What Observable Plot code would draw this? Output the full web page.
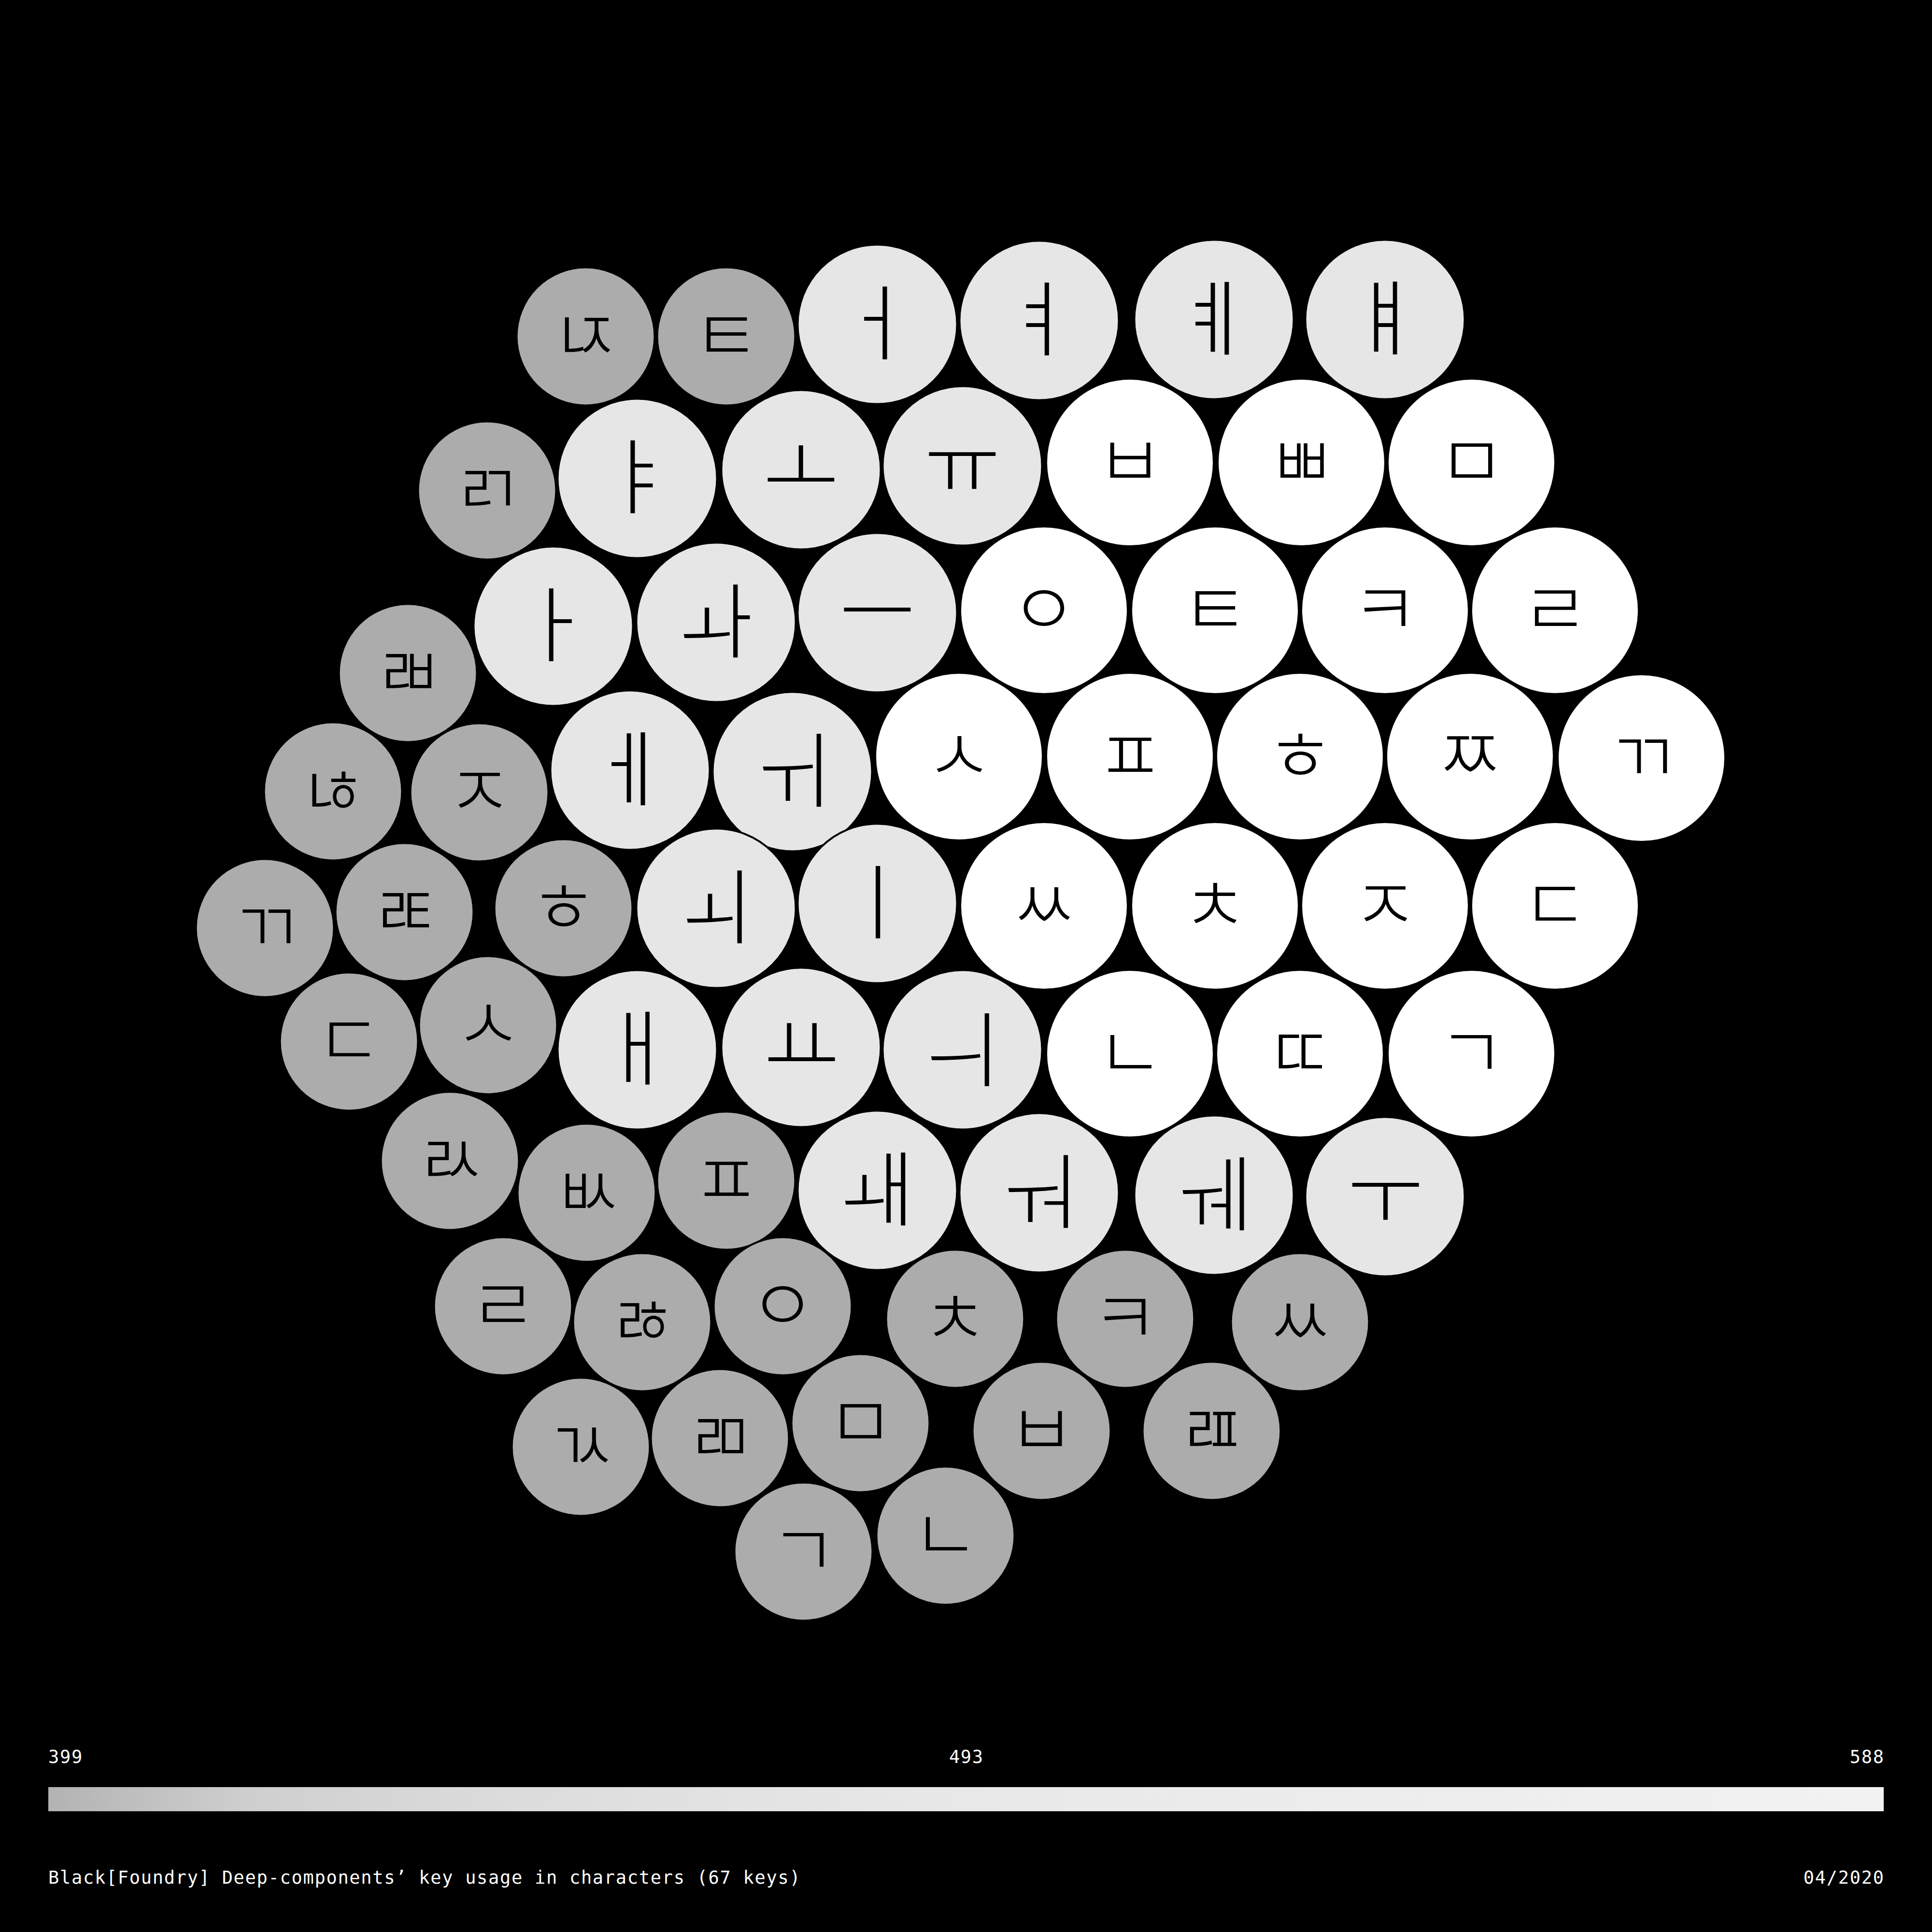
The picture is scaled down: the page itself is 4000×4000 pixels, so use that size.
<!DOCTYPE html>
<html><head><meta charset="utf-8">
<script src="https://cdn.jsdelivr.net/npm/d3@7"></script>
<script src="https://cdn.jsdelivr.net/npm/@observablehq/plot@0.6"></script>
<style>
html,body{margin:0;padding:0;background:#000;}
#wrap{position:relative;width:4000px;height:4000px;background:#000;overflow:hidden;}
#wrap svg{position:absolute;left:0;display:block;}
</style></head><body><div id="wrap"></div>
<script>
// Keys (Hangul jamo deep-components)
const keys  = ["ㄵ","ㅌ","ㅓ","ㅕ","ㅖ","ㅒ",
               "ㄺ","ㅑ","ㅗ","ㅠ","ㅂ","ㅃ","ㅁ",
               "ㄼ","ㅏ","ㅘ","ㅡ","ㅇ","ㅌ","ㅋ","ㄹ",
               "ㄶ","ㅈ","ㅔ","ㅟ","ㅅ","ㅍ","ㅎ","ㅉ","ㄲ",
               "ㄲ","ㄾ","ㅎ","ㅚ","ㅣ","ㅆ","ㅊ","ㅈ","ㄷ",
               "ㄷ","ㅅ","ㅐ","ㅛ","ㅢ","ㄴ","ㄸ","ㄱ",
               "ㄽ","ㅄ","ㅍ","ㅙ","ㅝ","ㅞ","ㅜ",
               "ㄹ","ㅀ","ㅇ","ㅊ","ㅋ","ㅆ",
               "ㄳ","ㄻ","ㅁ","ㅂ","ㄿ",
               "ㄱ","ㄴ"];
// Role of each key: i = initial consonant, v = vowel, f = final consonant
const roles = ["f","f","v","v","v","v",
               "f","v","v","v","i","i","i",
               "f","v","v","v","i","i","i","i",
               "f","f","v","v","i","i","i","i","i",
               "f","f","f","v","v","i","i","i","i",
               "f","f","v","v","v","i","i","i",
               "f","f","f","v","v","v","v",
               "f","f","f","f","f","f",
               "f","f","f","f","f",
               "f","f"];
// Usage count (number of characters using the key) per role
const roleUsage = {i: 588, v: 532, f: 399};
// Packed-layout positions of the bubbles
const posX = [1212,1503,1816,2151,2513,2867,
              1008,1319,1658,1992,2339,2694,3046,
              844,1145,1482,1816,2161,2515,2867,3219,
              689,992,1304,1640,1985,2339,2691,3043,3398,
              548,837,1166,1482,1816,2161,2515,2867,3219,
              722,1010,1319,1658,1992,2339,2691,3046,
              931,1214,1503,1816,2151,2513,2867,
              1041,1329,1620,1977,2329,2691,
              1202,1490,1781,2156,2508,
              1663,1957];
const posY = [696,696,671,663,661,661,
              1015,990,972,964,957,957,957,
              1393,1296,1288,1268,1263,1263,1263,1263,
              1638,1640,1594,1597,1566,1566,1566,1566,1569,
              1921,1888,1880,1880,1870,1875,1875,1875,1875,
              2156,2122,2173,2168,2173,2181,2181,2181,
              2403,2469,2444,2464,2469,2474,2477,
              2704,2737,2704,2730,2730,2737,
              2995,2977,2946,2962,2962,
              3212,3179];
const legendTicks = [399, 493, 588];
const caption = "Black[Foundry] Deep-components’ key usage in characters (67 keys)";
const dateLabel = "04/2020";

const data = keys.map((k, i) => ({key: k, role: roles[i], value: roleUsage[roles[i]], x: posX[i], y: posY[i]}));

const W = 4000, H = 3560, RMAX = 173.5;
const chart = Plot.plot({
  width: W, height: H, margin: 0,
  style: {background: "#000", overflow: "visible"},
  x: {domain: [0, W], range: [0, W], axis: null},
  y: {domain: [0, H], range: [0, H], axis: null},
  r: {type: "sqrt", domain: [0, 588], range: [0, RMAX]},
  color: {type: "ordinal", domain: [399, 532, 588], range: ["#acacac", "#e6e6e6", "#ffffff"]},
  marks: [
    Plot.dot(data, {x: "x", y: "y", r: "value", fill: "value", stroke: "#000", strokeWidth: 4}),
    Plot.text(data, {x: "x", y: "y", text: "key", fill: "#000", dy: 4,
      fontSize: d => d.role === "v" ? 172 : 152,
      fontFamily: "Noto Sans CJK KR", fontWeight: 300})
  ]
});
chart.style.top = "0px";
document.getElementById("wrap").appendChild(chart);

// Legend + caption
const LS = 1.7;
const lg = d3.select("#wrap").append("svg")
  .attr("width", W).attr("height", 440)
  .style("top", H + "px");
const grad = lg.append("defs").append("linearGradient").attr("id", "ramp");
[[0, "#b3b3b3"], [0.11, "#cfcfcf"], [0.24, "#dbdbdb"], [0.38, "#e3e3e3"], [0.5, "#e8e8e8"],
 [0.67, "#ececec"], [0.84, "#efefef"], [1, "#f2f2f2"]].forEach(([o, c]) =>
  grad.append("stop").attr("offset", o).attr("stop-color", c));
const lx = d3.scaleLinear().domain([399, 588]).range([100, 3900]);
const font = {"font-family": "'DejaVu Sans Mono', monospace", "font-size": 37, "letter-spacing": LS, fill: "#fff"};
legendTicks.forEach((t, i) => {
  const last = legendTicks.length - 1;
  const pos = i === 0 || i === last ? lx(t) : (lx.range()[0] + lx.range()[1]) / 2 + LS / 2;
  const tx = lg.append("text").attr("x", i === last ? pos + LS : pos).attr("y", 90)
    .attr("text-anchor", i === 0 ? "start" : i === last ? "end" : "middle").text(t);
  Object.entries(font).forEach(([k, v]) => tx.attr(k, v));
});
lg.append("rect").attr("x", 100).attr("y", 140).attr("width", 3800).attr("height", 50).attr("fill", "url(#ramp)");
const c1 = lg.append("text").attr("x", 100).attr("y", 340).text(caption);
const c2 = lg.append("text").attr("x", 3900 + LS).attr("y", 340).attr("text-anchor", "end").text(dateLabel);
[c1, c2].forEach(t => Object.entries(font).forEach(([k, v]) => t.attr(k, v)));
</script></body></html>
